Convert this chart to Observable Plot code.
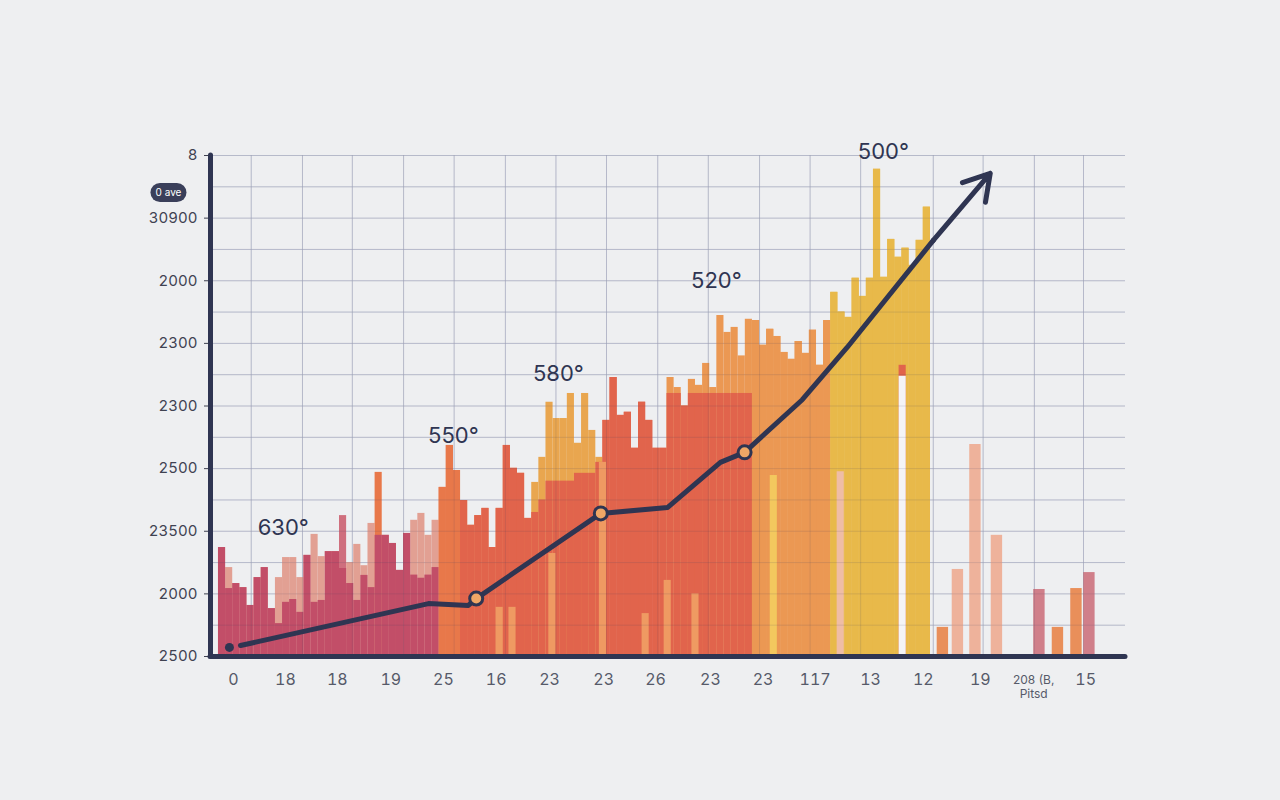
<!DOCTYPE html>
<html><head><meta charset="utf-8">
<script src="https://cdn.jsdelivr.net/npm/d3@7"></script>
<script src="https://cdn.jsdelivr.net/npm/@observablehq/plot@0.6"></script>
<style>
html,body{margin:0;padding:0;background:#eeeff1;}
#chart svg{display:block;}
</style>
</head><body><div id="chart"></div>
<script>
// ---- data (slot units on x, value units on y) ----
const skyline = [3.48,2.84,2.33,2.20,1.63,2.52,2.84,1.53,2.52,3.16,
  3.16,2.52,3.23,3.90,3.19,3.35,3.35,4.50,3.00,3.58,
  2.90,4.25,5.88,3.87,3.61,2.75,3.93,4.35,4.57,3.87,
  4.35,5.40,6.74,5.94,4.98,4.19,4.50,4.73,3.48,4.73,
  6.74,6.01,5.85,4.41,5.56,6.36,8.12,7.60,7.60,8.40,
  6.81,8.40,7.22,6.36,7.54,8.91,7.70,7.80,6.65,8.12,
  7.54,6.65,6.65,8.91,8.59,8.00,8.85,8.66,9.36,8.59,
  10.89,10.35,10.51,9.60,10.77,10.73,9.94,10.45,10.22,9.71,
  9.49,10.06,9.68,10.42,9.30,10.73,11.63,11.00,10.83,12.08,
  11.50,12.08,15.56,12.11,13.32,12.75,13.04,12.49,13.29,14.35];
const body = [3.48,2.17,2.33,2.20,1.63,2.52,2.84,1.53,1.05,1.73,
  1.82,1.41,3.23,1.73,1.79,3.35,3.35,2.81,2.33,1.79,
  2.59,2.20,3.87,3.87,3.61,2.75,3.93,2.60,2.50,2.60,
  2.84,5.40,6.74,5.94,4.98,4.19,4.50,4.73,3.48,4.73,
  6.74,6.01,5.85,4.41,4.60,5.00,5.60,5.60,5.60,5.60,
  5.85,5.85,5.85,6.20,7.54,8.91,7.70,7.80,6.65,8.12,
  7.54,6.65,6.65,8.40,8.40,8.00,8.40,8.40,8.40,8.40,
  8.40,8.40,8.40,8.40,8.40,10.73,9.94,10.45,10.22,9.71,
  9.49,10.06,9.68,10.42,9.30,10.73,11.63,11.00,10.83,12.08,
  11.50,12.08,15.56,12.11,13.32,12.75,13.04,12.49,13.29,14.35];
const backToneStart = [0, 17, 18, 22, 23, 31, 44, 54, 63, 86];
const backTones = ["blush","rosewood","blush","flame","blush","flame","honey","ember","apricot","saffron"];
const frontToneStart = [0, 31, 34, 75, 86];
const frontTones = ["berry","flame","ember","apricot","saffron"];

const stripeSlot = [96.1, 96.1, 78.0, 87.4, 46.9, 54.0, 60.0, 63.1, 39.5, 41.3, 67.0];
const stripeHeight = [9.30, 8.95, 5.78, 5.90, 3.29, 6.20, 1.37, 2.43, 1.57, 1.57, 2.00];
const stripeTone = ["ember","paper","butter","shell","papaya","papaya","papaya","papaya","papaya","papaya","papaya"];

const sideSlot = [101.75, 103.86, 106.32, 109.34, 115.31, 117.91, 120.51, 122.33];
const sideHeight = [0.93, 2.78, 6.77, 3.87, 2.14, 0.93, 2.17, 2.68];
const sideTone = ["cantaloupe","nectar","nectar","nectar","mulberry","cantaloupe","cantaloupe","mulberry"];

const trendX = [3.09, 29.5, 35.1, 36.2, 53.7, 63.1, 70.5, 73.9, 82.0, 88.3, 100.4];
const trendY = [0.35, 1.69, 1.63, 1.85, 4.57, 4.76, 6.20, 6.52, 8.20, 9.87, 13.29];
const markerX = [36.2, 53.7, 73.9];
const markerY = [1.85, 4.57, 6.52];
const startDot = [1.54, 0.29];
const arrowTip = [108.4, 15.43];

const calloutText = ["630°", "550°", "580°", "520°", "500°"];
const calloutX = [9.1, 33.0, 47.75, 69.94, 93.4];
const calloutY = [4.12, 7.03, 9.01, 11.98, 16.1];

const yTickValues = [0, 2, 4, 6, 8, 10, 12, 14, 16];
const yTickLabels = ["2500", "2000", "23500", "2500", "2300", "2300", "2000", "30900", "8"];
const xTickValues = [2.1, 9.4, 16.7, 24.2, 31.6, 39.0, 46.5, 54.1, 61.4, 69.1, 76.5, 83.8, 91.6, 99.0, 107.0, 114.5, 121.8];
const xTickLabels = ["0","18","18","19","25","16","23","23","26","23","23","117","13","12","19","208 (B,\nPitsd","15"];
const gridXValues = [4.6, 11.8, 18.8, 26.0, 33.1, 40.3, 47.4, 54.5, 61.7, 68.8, 76.0, 83.1, 90.2, 100.4, 107.4, 114.6, 121.5];
const gridYValues = d3.range(0, 17);
const pillText = "0 ave";
const pillX = [-8.22, -5.83];
const pillY = 14.82;

const toneNames = ["berry","blush","rosewood","flame","ember","honey","apricot","saffron","butter","shell","papaya","paper","mulberry","nectar","cantaloupe"];
const toneColors = ["#c24e68","#e2a093","#cf6f7e","#e8784a","#e1644c","#e9a64f","#eb9853","#e8b94a","#f3c85e","#efbda6","#ef9a62","#f4f4f6","#d07f8a","#eeb29b","#e98f5a"];

// ---- helpers ----
const xDomain = [-1.12, 127.4];
const toneAt = (starts, tones) => i => { let t = tones[0]; starts.forEach((s, k) => { if (i >= s) t = tones[k]; }); return t; };
const backTone = toneAt(backToneStart, backTones);
const frontTone = toneAt(frontToneStart, frontTones);
const slots = d3.range(skyline.length);
const stripes = stripeSlot.map((_, i) => i);
const sides = sideSlot.map((_, i) => i);
const trend = trendX.map((x, i) => ({x, y: trendY[i]}));
const markers = markerX.map((x, i) => ({x, y: markerY[i]}));
const callouts = calloutText.map((t, i) => ({t, x: calloutX[i], y: calloutY[i]}));
const ink = "#2f3552";

const chart = Plot.plot({
  width: 1280, height: 800,
  marginLeft: 210, marginRight: 155, marginTop: 155, marginBottom: 144,
  x: {domain: xDomain, axis: null},
  y: {domain: [0, 16], axis: null},
  color: {type: "ordinal", domain: toneNames, range: toneColors},
  style: {fontFamily: "Inter, 'Open Sans', sans-serif", background: "transparent", overflow: "visible"},
  marks: [
    Plot.gridY(gridYValues, {stroke: "#cbcedb", strokeOpacity: 1}),
    Plot.gridX(gridXValues, {stroke: "#cbcedb", strokeOpacity: 1}),
    Plot.rect(slots, {x1: d => d, x2: d => d + 1, y1: () => 0, y2: d => skyline[d], fill: d => backTone(d)}),
    Plot.rect(slots, {x1: d => d, x2: d => d + 1, y1: () => 0, y2: d => body[d], fill: d => frontTone(d)}),
    Plot.rect(stripes, {x1: i => stripeSlot[i] - 0.5, x2: i => stripeSlot[i] + 0.5, y1: () => 0, y2: i => stripeHeight[i], fill: i => stripeTone[i]}),
    Plot.rect(sides, {x1: i => sideSlot[i] - 0.8, x2: i => sideSlot[i] + 0.8, y1: () => 0, y2: i => sideHeight[i], fill: i => sideTone[i]}),
    Plot.gridY(gridYValues, {stroke: "#3c4166", strokeOpacity: 0.14}),
    Plot.gridX(gridXValues, {stroke: "#3c4166", strokeOpacity: 0.14}),
    Plot.axisY(yTickValues, {tickFormat: d => yTickLabels[yTickValues.indexOf(d)], tickSize: 6, tickPadding: 7, fontSize: 15, color: "#3f4251", label: null}),
    Plot.axisX(xTickValues, {tickFormat: d => { const s = xTickLabels[xTickValues.indexOf(d)]; return s.includes("\n") ? "" : s; }, tickSize: 3, tickPadding: 14, fontSize: 16, color: "#565a69", label: null}),
    Plot.text(xTickValues.filter((d, i) => xTickLabels[i].includes("\n")), {x: d => d, y: () => 0, text: d => xTickLabels[xTickValues.indexOf(d)], dy: 18, lineAnchor: "top", fontSize: 12, fill: "#565a69", lineHeight: 1.15}),
    Plot.ruleX([xDomain[0]], {stroke: ink, strokeWidth: 5, strokeLinecap: "round"}),
    Plot.ruleY([0], {stroke: ink, strokeWidth: 5, strokeLinecap: "round"}),
    Plot.line(trend, {x: "x", y: "y", stroke: ink, strokeWidth: 5, strokeLinejoin: "round", strokeLinecap: "round"}),
    Plot.arrow([0], {x1: () => trendX[trendX.length - 1], y1: () => trendY[trendY.length - 1], x2: () => arrowTip[0], y2: () => arrowTip[1], stroke: ink, strokeWidth: 5, headLength: 10, headAngle: 62, strokeLinecap: "round", strokeLinejoin: "round"}),
    Plot.dot(markers, {x: "x", y: "y", r: 6.5, fill: "#f0a766", stroke: ink, strokeWidth: 3}),
    Plot.dot([startDot], {x: d => d[0], y: d => d[1], r: 4.5, fill: ink}),
    Plot.text(callouts, {x: "x", y: "y", text: "t", fontSize: 22, fill: ink}),
    Plot.line(pillX.map(x => ({x, y: pillY})), {x: "x", y: "y", stroke: "#3a3f5a", strokeWidth: 19, strokeLinecap: "round"}),
    Plot.text([pillText], {x: () => (pillX[0] + pillX[1]) / 2, y: () => pillY, text: d => d, fill: "#ffffff", fontSize: 10})
  ]
});
document.getElementById("chart").appendChild(chart);
</script>
</body></html>
